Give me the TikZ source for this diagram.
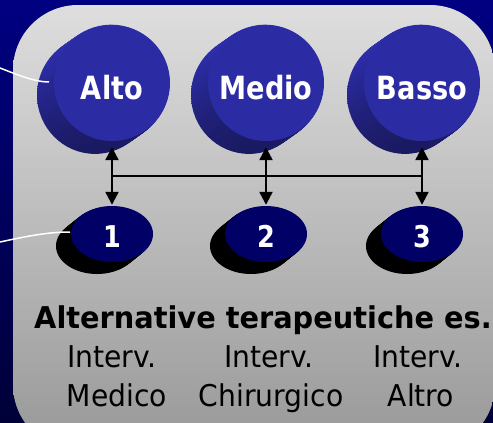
\documentclass[tikz,border=0pt]{standalone}
\usepackage{fontspec}
\usepackage{tikz}
\usetikzlibrary{arrows.meta, shapes.geometric}

\newfontfamily\discfont[FakeStretch=0.85]{DejaVu Sans}
\newfontfamily\notefont[FakeStretch=0.94]{DejaVu Sans}
\newfontfamily\headfont[FakeStretch=0.96]{DejaVu Sans}

\definecolor{navytop}{RGB}{0,0,130}
\definecolor{navybot}{RGB}{0,0,56}
\definecolor{paneltop}{RGB}{222,222,222}
\definecolor{panelbot}{RGB}{152,152,152}
\definecolor{faceblue}{RGB}{43,43,163}
\definecolor{sidelight}{RGB}{50,50,188}
\definecolor{sidedark}{RGB}{26,26,98}
\definecolor{smallblue}{RGB}{0,0,102}

\tikzset{
    bigface/.style={circle, fill=faceblue, minimum size=116pt, inner sep=0pt},
    smallface/.style={ellipse, fill=smallblue, minimum width=82pt, minimum height=56pt, inner sep=0pt},
    disclabel/.style={anchor=base, text=white, font=\discfont\bfseries\fontsize{32}{36}\selectfont},
    numlabel/.style={anchor=base, text=white, font=\discfont\bfseries\fontsize{30}{34}\selectfont},
    headline/.style={anchor=base, font=\headfont\bfseries\fontsize{30}{34}\selectfont},
    noteline/.style={anchor=base, font=\notefont\fontsize{30}{34}\selectfont},
    twoway/.style={>={Triangle[length=13pt,width=13pt]}, <->, line width=2.3pt},
    busline/.style={line width=1.8pt},
    callout/.style={white, line width=1.5pt}
}

\begin{document}
\begin{tikzpicture}[x=1pt, y=-1pt]
        \pgfmathsetmacro{\topY}{83}
        \pgfmathsetmacro{\lowY}{234}

        \useasboundingbox (0,0) rectangle (493,423);
        \shade[top color=navytop, bottom color=navybot] (0,0) rectangle (493,423);
        \shade[top color=paneltop, bottom color=panelbot, rounded corners=65pt]
            (13,5) rectangle (495,450);

        % upper discs
        \foreach \name/\cx/\word in {alto/112/Alto, medio/266/Medio, basso/422/Basso} {
            \foreach \t in {17,16,...,1}
                \shade[top color=sidelight, bottom color=sidedark]
                    (\cx-\t, \topY+0.7*\t) ellipse [x radius=58, y radius=59];
            \node[bigface] (\name) at (\cx, \topY) {};
            \node[disclabel] (\name Txt) at (\cx, 99) {\word};
        }

        % lower discs
        \foreach \name/\cx/\num in {uno/112/1, due/266/2, tre/422/3} {
            \foreach \t in {15,14,...,1}
                \fill[black] (\cx-\t, \lowY+0.8*\t) ellipse [x radius=41, y radius=28];
            \node[smallface] (\name) at (\cx, \lowY) {};
            \node[numlabel] (\name Txt) at (\cx, 247) {\num};
        }

        \draw[twoway, shorten <=6pt, shorten >=1pt] (alto.south) -- (uno.north);
        \draw[twoway, shorten <=6pt, shorten >=1pt] (medio.south) -- (due.north);
        \draw[twoway, shorten <=6pt, shorten >=1pt] (basso.south) -- (tre.north);
        \coordinate (busY) at (0,176);
        \draw[busline] (alto.south |- busY) -- (basso.south |- busY);

        \coordinate (altoFree) at (0,68);
        \coordinate (altoPin) at (49,82);
        \coordinate (unoFree) at (0,242);
        \coordinate (unoPin) at (70,232);
        \draw[callout] (altoFree) .. controls (18,75) and (35,82) .. (altoPin);
        \draw[callout] (unoFree) .. controls (28,236) and (48,232) .. (unoPin);

        \node[headline] (title) at (263,328) {Alternative terapeutiche es.};
        \node[noteline] (medA) at (112,367) {Interv.};
        \node[noteline] (chiA) at (269,367) {Interv.};
        \node[noteline] (altA) at (418,367) {Interv.};
        \node[noteline] (medB) at (117,406) {Medico};
        \node[noteline] (chiB) at (271,406) {Chirurgico};
        \node[noteline] (altB) at (421,406) {Altro};
    \end{tikzpicture}
\end{document}
